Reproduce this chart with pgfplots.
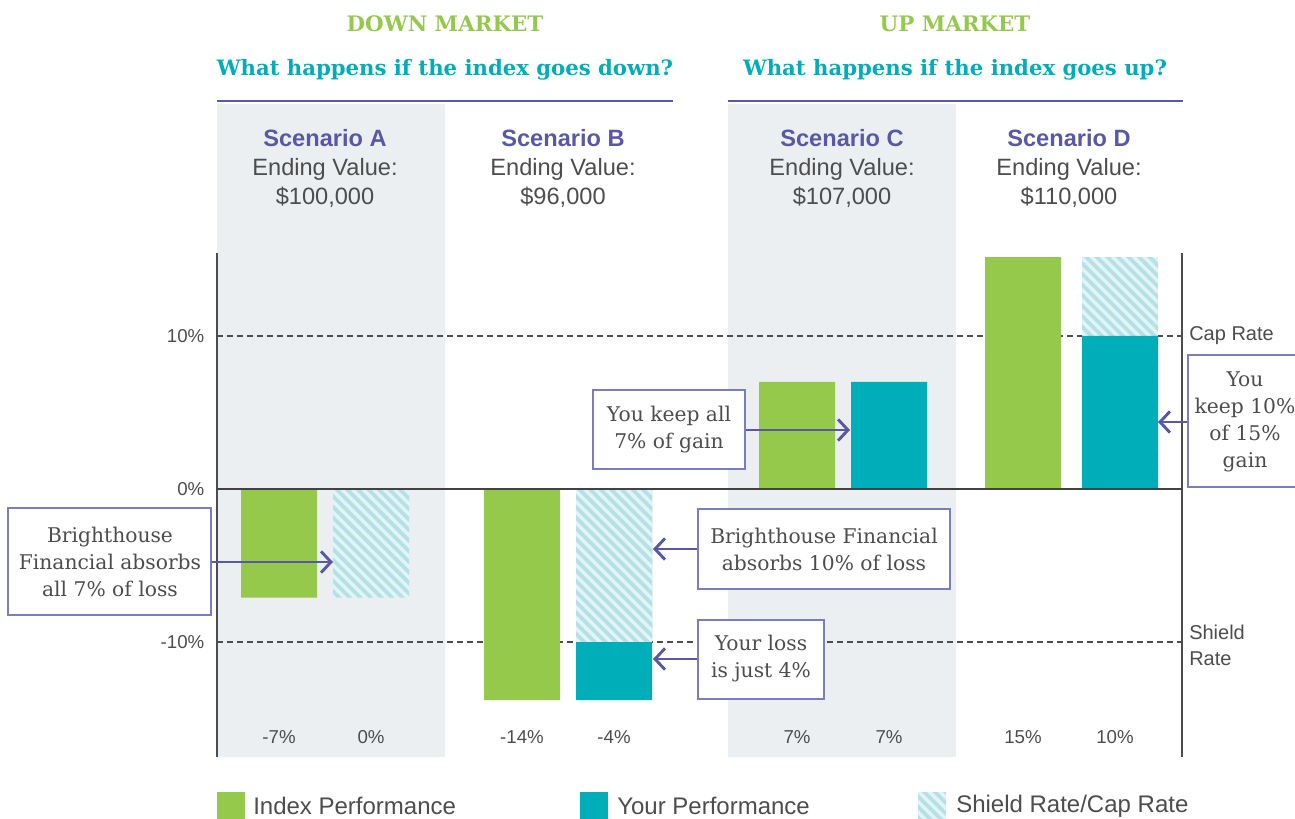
\documentclass[border=0pt]{standalone}
\usepackage{pgfplots}
\pgfplotsset{compat=1.18}
\usetikzlibrary{patterns.meta,arrows.meta}
\usepackage{fontspec}
\setmainfont{Liberation Sans}
\newfontfamily\slab{DejaVu Serif}
\definecolor{cgreen}{HTML}{95C94C}
\definecolor{cteal}{HTML}{00AEBA}
\definecolor{cpurple}{HTML}{5A58A6}
\definecolor{cbox}{HTML}{7C7CC0}
\definecolor{cbg}{HTML}{ECEFF2}
\definecolor{ctext}{HTML}{4D4D4D}
\definecolor{hlight}{HTML}{E2F4F6}
\definecolor{hdark}{HTML}{B3E1E6}
\tikzset{hatchbar/.style={fill=hlight,draw=none,postaction={pattern={Lines[angle=-45,distance=5.6pt,line width=2.8pt]},pattern color=hdark}}}
\begin{document}
\begin{tikzpicture}
\begin{scope}[x=0.75pt,y=-0.75pt]
\fill[cbg] (217,104) rectangle (445,757);
\fill[cbg] (728,104) rectangle (956,757);
\draw[ctext, dash pattern=on 4.5pt off 3pt, line width=0.8pt] (217,336) -- (1186,336);
\draw[ctext, dash pattern=on 4.5pt off 3pt, line width=0.8pt] (217,642) -- (1186,642);
\draw[ctext, line width=1pt] (217,253) -- (217,757);
\draw[ctext, line width=1pt] (1182,253) -- (1182,757);
\end{scope}
\begin{axis}[at={(162.75pt,-567.75pt)}, anchor=south west, scale only axis,
  width=723.75pt, height=378pt, xmin=217, xmax=1182, ymin=-17.52, ymax=15.42,
  axis line style={draw=none}, xtick=\empty, ytick={-10,0,10},
  yticklabels={-10\%,0\%,10\%}, major tick length=0pt,
  yticklabel style={font=\fontsize{14}{16}\selectfont, text=ctext, xshift=-6pt},
  clip=false]
\addplot[ybar, bar width=76, bar shift=0pt, fill=cgreen, draw=none]
  coordinates {(279,-7.1) (522,-13.8) (797,7) (1023,15.15)};
\addplot[ybar, bar width=76, bar shift=0pt, hatchbar]
  coordinates {(1120,15.15)};
\addplot[ybar, bar width=76, bar shift=0pt, fill=cteal, draw=none]
  coordinates {(614,-13.8) (889,7) (1120,10)};
\addplot[ybar, bar width=76, bar shift=0pt, hatchbar]
  coordinates {(371,-7.1) (614,-10)};
\end{axis}
\begin{scope}[x=0.75pt,y=-0.75pt]
\draw[ctext!85!black, line width=1.2pt] (217,489) -- (1182,489);
% headers
\node[font=\slab\bfseries\fontsize{16}{20}\selectfont, text=cgreen] at (445,24) {DOWN MARKET};
\node[font=\slab\bfseries\fontsize{15.9}{20}\selectfont, text=cteal] at (445,70) {What happens if the index goes down?};
\node[font=\slab\bfseries\fontsize{16}{20}\selectfont, text=cgreen] at (955,24) {UP MARKET};
\node[font=\slab\bfseries\fontsize{15.9}{20}\selectfont, text=cteal] at (955,70) {What happens if the index goes up?};
\draw[cpurple, line width=2.2pt] (217,101) -- (673,101);
\draw[cpurple, line width=2.2pt] (728,101) -- (1183,101);
% scenarios
\foreach \x/\s/\v in {325/A/100,563/B/96,842/C/107,1069/D/110}{
  \node[font=\fontsize{17.7}{21.75}\selectfont, text=ctext, align=center] at (\x,168)
    {\textcolor{cpurple}{\bfseries Scenario \s}\\Ending Value:\\\$\v,000};
}
% bottom labels
\foreach \x/\t in {279/-7\%,371/0\%,522/-14\%,614/-4\%,797/7\%,889/7\%,1023/15\%,1115/10\%}{
  \node[font=\fontsize{14}{16}\selectfont, text=ctext] at (\x,737) {\t};
}
% right labels
\node[font=\fontsize{15}{19.5}\selectfont, text=ctext, anchor=west, inner sep=0pt] at (1189,336) {Cap Rate};
\node[font=\fontsize{15}{19.5}\selectfont, text=ctext, anchor=west, align=left, inner sep=0pt] at (1189,645) {Shield\\Rate};
% annotation boxes
\tikzset{abox/.style={draw=cbox, line width=1.1pt, fill=white},
  atext/.style={font=\slab\fontsize{15.2}{20.25}\selectfont, text=ctext, align=center},
  arr/.style={cpurple, line width=2.2pt, -{Straight Barb[length=7.5pt,width=16pt,line width=2.2pt]}}}
\draw[arr] (211,562) -- (333,562);
\draw[abox] (8,508) rectangle (211,615);
\node[atext] at (110,562) {Brighthouse\\Financial absorbs\\all 7\% of loss};
\draw[arr] (745,430) -- (850,430);
\draw[abox] (593,390) rectangle (745,469);
\node[atext] at (669,430) {You keep all\\7\% of gain};
\draw[arr] (698,549) -- (653,549);
\draw[abox] (698,509) rectangle (950,589);
\node[atext] at (824,549) {Brighthouse Financial\\absorbs 10\% of loss};
\draw[arr] (698,659) -- (653,659);
\draw[abox] (698,620) rectangle (824,699);
\node[atext] at (761,659) {Your loss\\is just 4\%};
\draw[arr] (1188,422) -- (1158,422);
\draw[abox] (1188,355) rectangle (1320,487);
\node[atext] at (1245,422) {You\\keep 10\%\\of 15\%\\gain};
% legend
\fill[cgreen] (217,792) rectangle (245,822);
\node[font=\fontsize{18}{20}\selectfont, text=ctext, anchor=west, inner sep=0pt] at (253,806) {Index Performance};
\fill[cteal] (580,792) rectangle (608,822);
\node[font=\fontsize{18}{20}\selectfont, text=ctext, anchor=west, inner sep=0pt] at (617,806) {Your Performance};
\fill[hlight] (918,792) rectangle (946,822);
\fill[pattern={Lines[angle=-45,distance=5.6pt,line width=2.8pt]}, pattern color=hdark] (918,792) rectangle (946,822);
\node[font=\fontsize{18}{20}\selectfont, text=ctext, anchor=west, inner sep=0pt] at (956,806) {Shield Rate/Cap Rate};
\end{scope}
\pgfresetboundingbox
\useasboundingbox (0pt,0pt) rectangle (971.25pt,-613.5pt);
\end{tikzpicture}
\end{document}
